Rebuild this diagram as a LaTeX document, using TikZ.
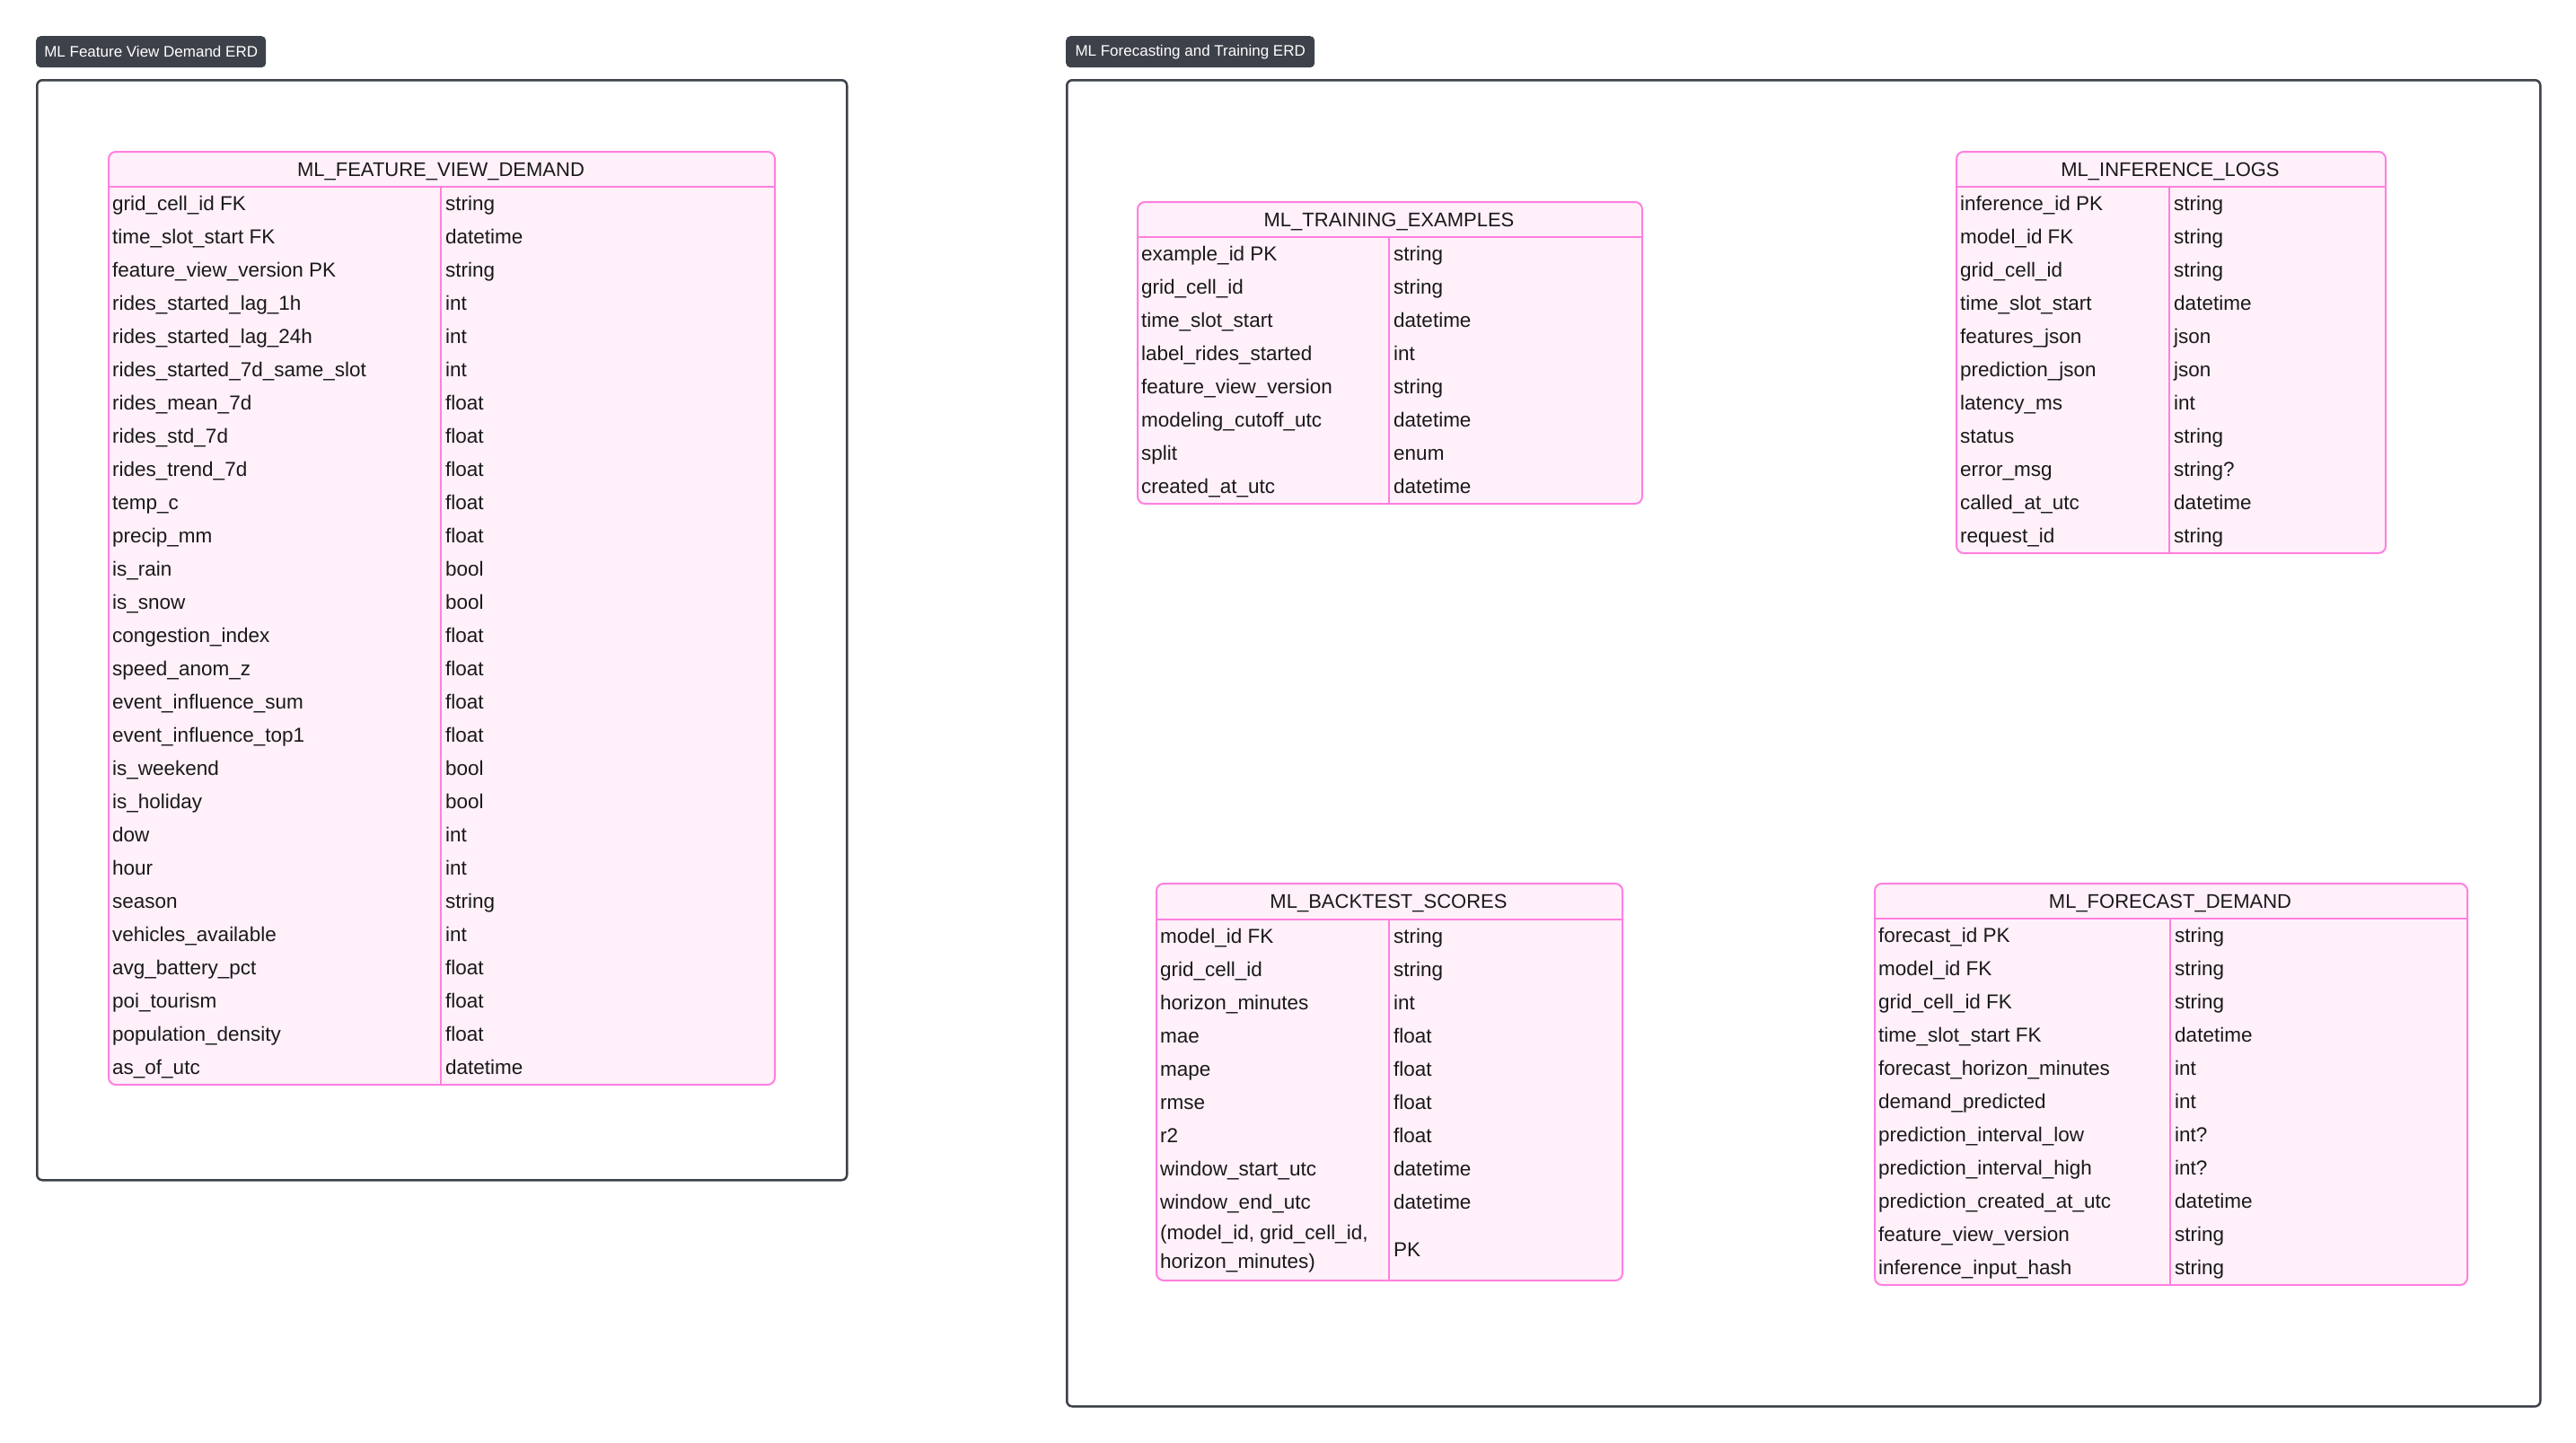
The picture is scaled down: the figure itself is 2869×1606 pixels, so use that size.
\documentclass[tikz,border=0pt]{standalone}
\usepackage{fontspec}
\setmainfont{Liberation Sans}
\definecolor{pinkb}{RGB}{255,128,224}
\definecolor{pinkf}{RGB}{255,240,250}
\definecolor{frameg}{RGB}{61,65,73}
\definecolor{txt}{RGB}{25,25,25}
\tikzset{
  grp/.style={draw=frameg, line width=2.5pt, rounded corners=6pt, anchor=north west, inner sep=0pt},
  tag/.style={fill=frameg, rounded corners=5pt, text=white, font=\fontsize{17}{19}\selectfont, inner sep=0pt, anchor=north west},
  tbl/.style={draw=pinkb, fill=pinkf, line width=2pt, rounded corners=8pt, anchor=north west, inner sep=0pt},
  sep/.style={draw=pinkb, line width=2pt},
  cell/.style={anchor=base west, inner sep=0pt, text=txt, font=\fontsize{22.5}{27}\selectfont},
  ttl/.style={anchor=base, inner sep=0pt, text=txt, font=\fontsize{22}{27}\selectfont},
}
% #1 name, #2 left, #3 top, #4 right, #5 bottom, #6 header line, #7 divider, #8 title, #9 rows
\newcommand{\erdtable}[9]{%
  \node[tbl, minimum width={(#4-#2)*1pt}, minimum height={(#5-#3)*1pt}] (#1) at (#2,#3) {};
  \draw[sep] (#1.west |- 0,#6) coordinate (#1-hl) -- (#1.east |- 0,#6) coordinate (#1-hr);
  \coordinate (#1-dt) at (#7,#6);
  \coordinate (#1-db) at (#7,#5);
  \draw[sep] (#1-dt) -- (#1-db);
  \node[ttl] (#1-title) at ({(#2+#4)/2},{(#3+#6)/2+8}) {#8};
  \foreach \na/\ty [count=\i] in {#9} {
    \node[cell] (#1-n\i) at ({#2+5},{#6+37*\i-18.5+8}) {\na};
    \node[cell] (#1-t\i) at ({#7+5},{#6+37*\i-18.5+8}) {\ty};
  }%
}
\begin{document}
\begin{tikzpicture}[x=1pt,y=-1pt]
\useasboundingbox (0,0) rectangle (2869,1606);
\fill[white] (0,0) rectangle (2869,1606);

% group frames and tags
\node[grp, minimum width=902pt, minimum height=1225pt] (g1) at (40,88) {};
\node[tag, minimum width=256pt, minimum height=35pt] (g1tag) at (40,40) {ML Feature View Demand ERD};
\node[grp, minimum width=1641pt, minimum height=1477pt] (g2) at (1187,88) {};
\node[tag, minimum width=277pt, minimum height=35pt] (g2tag) at (1187,40) {ML Forecasting and Training ERD};

\erdtable{fv}{120}{168}{862}{1207}{208}{491}{ML\_FEATURE\_VIEW\_DEMAND}{
grid\_cell\_id FK/string,
time\_slot\_start FK/datetime,
feature\_view\_version PK/string,
rides\_started\_lag\_1h/int,
rides\_started\_lag\_24h/int,
rides\_started\_7d\_same\_slot/int,
rides\_mean\_7d/float,
rides\_std\_7d/float,
rides\_trend\_7d/float,
temp\_c/float,
precip\_mm/float,
is\_rain/bool,
is\_snow/bool,
congestion\_index/float,
speed\_anom\_z/float,
event\_influence\_sum/float,
event\_influence\_top1/float,
is\_weekend/bool,
is\_holiday/bool,
dow/int,
hour/int,
season/string,
vehicles\_available/int,
avg\_battery\_pct/float,
poi\_tourism/float,
population\_density/float,
as\_of\_utc/datetime}

\erdtable{tr}{1266}{224}{1828}{560}{264}{1547}{ML\_TRAINING\_EXAMPLES}{
example\_id PK/string,
grid\_cell\_id/string,
time\_slot\_start/datetime,
label\_rides\_started/int,
feature\_view\_version/string,
modeling\_cutoff\_utc/datetime,
split/enum,
created\_at\_utc/datetime}

\erdtable{inf}{2178}{168}{2656}{615}{208}{2416}{ML\_INFERENCE\_LOGS}{
inference\_id PK/string,
model\_id FK/string,
grid\_cell\_id/string,
time\_slot\_start/datetime,
features\_json/json,
prediction\_json/json,
latency\_ms/int,
status/string,
error\_msg/string?,
called\_at\_utc/datetime,
request\_id/string}

\erdtable{bt}{1287}{983}{1806}{1425}{1024}{1547}{ML\_BACKTEST\_SCORES}{
model\_id FK/string,
grid\_cell\_id/string,
horizon\_minutes/int,
mae/float,
mape/float,
rmse/float,
r2/float,
window\_start\_utc/datetime,
window\_end\_utc/datetime}
\node[cell, anchor=west, align=left, font=\fontsize{22.5}{32}\selectfont] (bt-n10) at (1292,1391) {(model\_id, grid\_cell\_id,\\horizon\_minutes)};
\node[cell] (bt-t10) at (1552,1399) {PK};

\erdtable{fc}{2087}{983}{2747}{1430}{1023}{2417}{ML\_FORECAST\_DEMAND}{
forecast\_id PK/string,
model\_id FK/string,
grid\_cell\_id FK/string,
time\_slot\_start FK/datetime,
forecast\_horizon\_minutes/int,
demand\_predicted/int,
prediction\_interval\_low/int?,
prediction\_interval\_high/int?,
prediction\_created\_at\_utc/datetime,
feature\_view\_version/string,
inference\_input\_hash/string}
\end{tikzpicture}
\end{document}
